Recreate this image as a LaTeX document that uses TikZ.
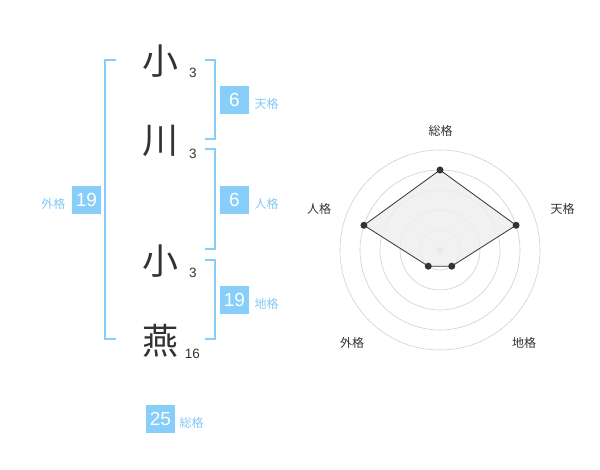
\documentclass[tikz,border=0pt]{standalone}
\usepackage{fontspec}
\setmainfont{Liberation Sans}
\newfontfamily\cjk{Noto Sans CJK JP}
\definecolor{sky}{RGB}{135,206,250}
\definecolor{skytext}{RGB}{130,200,245}
\definecolor{ink}{RGB}{51,51,51}
\definecolor{ringgray}{RGB}{208,208,208}
\definecolor{polyfill}{RGB}{238,238,238}
\begin{document}
\begin{tikzpicture}[x=1pt,y=-1pt,
  bigchar/.style={font=\cjk\fontsize{36}{36}\selectfont, text=ink, inner sep=0},
  strokenum/.style={font=\fontsize{13.5}{14}\selectfont, text=ink, inner sep=0},
  valbox/.style={fill=sky, text=white, minimum width=29, minimum height=28, inner sep=0, font=\fontsize{19}{19}\selectfont},
  kaku/.style={font=\cjk\fontsize{12}{12}\selectfont, text=skytext, inner sep=0},
  bracketline/.style={draw=sky, line width=2},
  ring/.style={draw=ringgray, line width=0.6},
  axislabel/.style={font=\cjk\fontsize{12}{12}\selectfont, text=ink, inner sep=0},
  dot/.style={fill=ink}]
\useasboundingbox (0,0) rectangle (600,470);
% name characters
\node[bigchar] (c1) at (160,61) {小};
\node[bigchar] (c2) at (160,141) {川};
\node[bigchar] (c3) at (160,261) {小};
\node[bigchar] (c4) at (160,341) {燕};
\node[strokenum] (s1) at (193,72.5) {3};
\node[strokenum] (s2) at (193,153.5) {3};
\node[strokenum] (s3) at (193,272.5) {3};
\node[strokenum] (s4) at (192.5,353.5) {16};
% brackets
\draw[bracketline] (116,60) -- (105,60) -- (105,339.5) -- (116,339.5);
\draw[bracketline] (205,60) -- (214.5,60) -- (214.5,139.5) -- (205,139.5);
\draw[bracketline] (205,149.5) -- (214.5,149.5) -- (214.5,249.5) -- (205,249.5);
\draw[bracketline] (205,260) -- (214.5,260) -- (214.5,339.5) -- (205,339.5);
% value boxes
\node[valbox] (ten) at (234.5,100) {6};
\node[kaku, anchor=west] (tenl) at (254.5,103.5) {天格};
\node[valbox] (jin) at (234.5,200) {6};
\node[kaku, anchor=west] (jinl) at (254.5,203.5) {人格};
\node[valbox] (chi) at (234.5,300) {19};
\node[kaku, anchor=west] (chil) at (254.5,303.5) {地格};
\node[valbox] (gai) at (86.5,200) {19};
\node[kaku, anchor=east] (gail) at (65.5,203.5) {外格};
\node[valbox] (sou) at (160.5,419) {25};
\node[kaku, anchor=west] (soul) at (179.5,422.5) {総格};
% radar chart
\coordinate (C) at (440,250);
\foreach \r in {20,40,60,80,100} \draw[ring] (C) circle[radius=\r];
\fill[ringgray] (C) circle[radius=3.5];
\path (C) ++(-90:80) coordinate (p1);
\path (C) ++(-18:80) coordinate (p2);
\path (C) ++(54:20) coordinate (p3);
\path (C) ++(126:20) coordinate (p4);
\path (C) ++(198:80) coordinate (p5);
\draw[fill=polyfill, fill opacity=0.85, draw=ink, line width=0.8] (p1) -- (p2) -- (p3) -- (p4) -- (p5) -- cycle;
\foreach \p in {p1,p2,p3,p4,p5} \fill[dot] (\p) circle[radius=3.5];
\node[axislabel] (a1) at (440.5,130.5) {総格};
\node[axislabel] (a2) at (562.5,209) {天格};
\node[axislabel] (a3) at (524,342.5) {地格};
\node[axislabel] (a4) at (352,342.5) {外格};
\node[axislabel] (a5) at (319,209) {人格};
\end{tikzpicture}
\end{document}
